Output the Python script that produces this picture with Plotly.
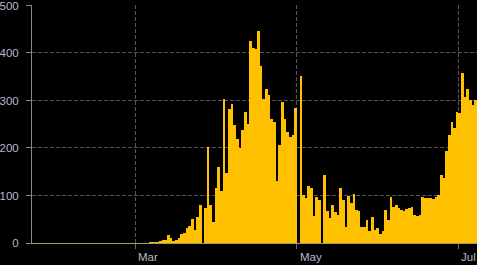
import pandas as pd
import plotly.graph_objects as go

# Daily values, Jan 22 - Jul 7 2020
jan_values = [0] * 10
feb_values = [0] * 29
mar_values = [0, 0, 0, 0, 0, 1, 1, 1, 2, 4,
              6, 6, 17, 10, 3, 7, 11, 19, 21, 31,
              35, 50, 27, 54, 81, 0, 73, 202, 81, 44,
              115]
apr_values = [160, 110, 304, 148, 283, 292, 248, 219, 200, 237,
              275, 250, 425, 410, 408, 446, 373, 304, 325, 312,
              260, 254, 131, 206, 296, 262, 233, 223, 227, 285]
may_values = [0, 352, 102, 94, 121, 115, 56, 96, 90, 0,
              144, 67, 52, 79, 65, 58, 115, 90, 33, 100,
              85, 104, 69, 67, 33, 33, 48, 25, 54, 27,
              31]
jun_values = [19, 25, 69, 48, 96, 75, 81, 73, 69, 67,
              71, 73, 75, 58, 56, 58, 96, 94, 94, 94,
              92, 96, 102, 144, 137, 194, 227, 254, 242, 275]
jul_values = [273, 358, 308, 325, 302, 290, 300]

values = jan_values + feb_values + mar_values + apr_values + may_values + jun_values + jul_values
dates = pd.date_range("2020-01-22", periods=len(values), freq="D")

y_ticks = [0, 100, 200, 300, 400, 500]
x_tick_dates = ["2020-03-01", "2020-05-01", "2020-07-01"]
x_tick_labels = ["Mar", "May", "Jul"]

label_font = dict(family="Liberation Sans, Arial, sans-serif", size=11.5, color="#B9B8CE")
grid_color = "#555555"
grid_dash = "4px,2px"

fig = go.Figure(
    go.Bar(
        x=dates,
        y=values,
        xperiod=86400000,
        marker=dict(color="#FFC000", line=dict(width=0)),
        hoverinfo="x+y",
    )
)

# month labels, left-aligned just right of their tick
for d, t in zip(x_tick_dates, x_tick_labels):
    fig.add_annotation(
        x=d, xref="x", y=0, yref="paper",
        text=t, showarrow=False,
        xanchor="left", yanchor="top",
        xshift=1, yshift=-6,
        font=label_font,
    )

fig.update_layout(
    width=477,
    height=265,
    margin=dict(l=31, r=0, t=3, b=22),
    paper_bgcolor="black",
    plot_bgcolor="black",
    bargap=0,
    showlegend=False,
    xaxis=dict(
        type="date",
        range=["2020-01-22", "2020-07-08"],
        tickvals=x_tick_dates,
        showticklabels=False,
        ticks="outside",
        ticklen=5,
        tickcolor="#6a6a6a",
        showgrid=True,
        gridcolor=grid_color,
        griddash=grid_dash,
        showline=True,
        linecolor="#a89a6a",
        linewidth=1,
        zeroline=False,
    ),
    yaxis=dict(
        range=[0, 501],
        tickvals=y_ticks,
        ticks="outside",
        ticklen=5,
        tickcolor="#8a8a8a",
        showgrid=True,
        gridcolor=grid_color,
        griddash=grid_dash,
        showline=True,
        linecolor="#8a8a8a",
        linewidth=1,
        zeroline=False,
        tickfont=label_font,
        ticklabelstandoff=5,
        ticklabeloverflow="allow",
    ),
)

fig.write_html("out.html")
